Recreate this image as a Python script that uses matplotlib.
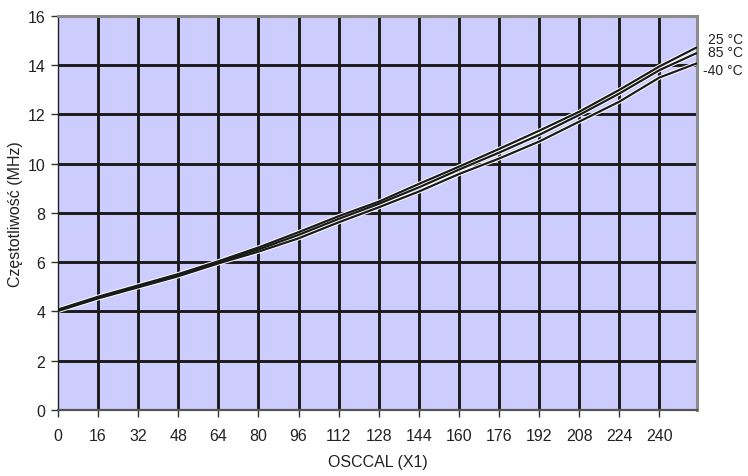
import numpy as np
import matplotlib
matplotlib.use("Agg")
import matplotlib.pyplot as plt
import matplotlib.transforms as mtransforms

osccal = [0, 16, 32, 48, 64, 80, 96, 112, 128, 144, 160, 176, 192, 208, 224, 240, 255]
freq_25 = [4.08, 4.60, 5.06, 5.52, 6.04, 6.60, 7.22, 7.87, 8.46, 9.18, 9.88, 10.60, 11.34, 12.11, 13.00, 13.95, 14.73]
freq_85 = [4.05, 4.57, 5.02, 5.48, 6.00, 6.52, 7.11, 7.76, 8.37, 9.04, 9.76, 10.45, 11.17, 11.98, 12.85, 13.80, 14.50]
freq_m40 = [4.02, 4.53, 4.98, 5.43, 5.95, 6.43, 6.97, 7.62, 8.23, 8.87, 9.58, 10.21, 10.90, 11.71, 12.52, 13.50, 14.08]
series_labels = ["25 °C", "85 °C", "-40 °C"]

x_ticks = list(range(0, 241, 16))
y_ticks = list(range(0, 17, 2))

plt.rcParams['font.family'] = ['Liberation Sans', 'DejaVu Sans']

fig = plt.figure(figsize=(7.48, 4.77), dpi=100)
ax = fig.add_axes([0.0775, 0.1384, 0.8543, 0.826])
ax.set_facecolor('#ccccff')

# grid lines (excel style, thick black)
for xv in x_ticks[1:]:
    ax.axvline(xv, color='#1c1a1a', linewidth=2.1, zorder=1)
for yv in y_ticks[1:-1]:
    ax.axhline(yv, color='#1c1a1a', linewidth=2.1, zorder=1)

for ys in [freq_m40, freq_85, freq_25]:
    ax.plot(osccal, ys, color='white', linewidth=3.0, zorder=2, solid_capstyle='butt')
for ys in [freq_m40, freq_85, freq_25]:
    ax.plot(osccal, ys, color='#1a1a1a', linewidth=1.6, zorder=3, solid_capstyle='butt')

ax.set_xlim(0, 255)
ax.set_ylim(0, 16)
ax.set_xticks(x_ticks)
ax.set_yticks(y_ticks)
ax.tick_params(axis='both', direction='out', length=5, width=1, color='#333333',
               labelsize=11.5, labelcolor='#222222')
ax.tick_params(axis='x', pad=8)
ax.tick_params(axis='y', pad=4)

for side in ['top', 'right']:
    ax.spines[side].set_color('#8c8c8c')
    ax.spines[side].set_linewidth(2.2)
ax.spines['bottom'].set_color('#555555')
ax.spines['bottom'].set_linewidth(1.6)
ax.spines['left'].set_color('#222222')
ax.spines['left'].set_linewidth(1.0)

ax.set_xlabel('OSCCAL (X1)', fontsize=11.5, color='#222222', labelpad=8)
ax.set_ylabel('Częstotliwość (MHz)', fontsize=11.5, color='#222222', labelpad=3)

trans = mtransforms.blended_transform_factory(ax.transAxes, ax.transData)
label_y = [15.07, 14.54, 13.82]
for lab, yv in zip(series_labels, label_y):
    ax.text(1.072, yv, lab, transform=trans, ha='right', va='center',
            fontsize=10, color='#222222', clip_on=False)

fig.savefig('out.png', dpi=100)
